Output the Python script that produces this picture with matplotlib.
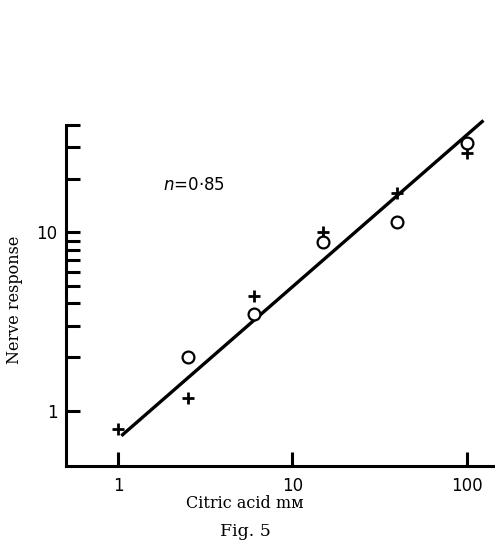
import numpy as np
import matplotlib
matplotlib.use("Agg")
import matplotlib.pyplot as plt
from matplotlib.ticker import FixedLocator, NullFormatter, NullLocator

# citric acid concentration (mM) and nerve response
conc_plus = [1, 2.5, 6, 15, 40, 100]
resp_plus = [0.79, 1.18, 4.4, 10.0, 16.7, 28]
conc_circ = [2.5, 6, 15, 40, 100]
resp_circ = [2.0, 3.5, 8.8, 11.5, 31.8]

# fitted line, slope n = 0.85
n = 0.85
fit_x = [1.04, 125]
fit_k = 0.70

fig = plt.figure(figsize=(4.95, 5.59), dpi=100)
ax = fig.add_axes([66/495, 93/559, 1 - 66/495 + 0.02, 341/559])

ax.set_xscale("log")
ax.set_yscale("log")
ax.set_xlim(0.5, 166)
ax.set_ylim(0.49, 40)

fx = np.array(fit_x)
ax.plot(fx, fit_k * fx**n, color="black", lw=2.4, clip_on=False, solid_capstyle="butt")
ax.plot(conc_plus, resp_plus, "+", color="black", ms=9, mew=2.0, clip_on=False)
ax.plot(conc_circ, resp_circ, "o", mfc="white", mec="black", ms=8.5, mew=1.6, clip_on=False)

for s in ["top", "right"]:
    ax.spines[s].set_visible(False)
for s in ["left", "bottom"]:
    ax.spines[s].set_linewidth(2.2)

ax.xaxis.set_major_locator(FixedLocator([1, 10, 100]))
ax.xaxis.set_minor_locator(NullLocator())
ax.set_xticklabels(["1", "10", "100"])
ax.yaxis.set_major_locator(FixedLocator([1, 10]))
ax.set_yticklabels(["1", "10"])
ax.yaxis.set_minor_locator(FixedLocator([2, 3, 4, 5, 6, 7, 8, 9, 20, 30, 40]))
ax.yaxis.set_minor_formatter(NullFormatter())

ax.tick_params(axis="x", which="major", direction="in", length=10, width=2.2, pad=8, labelsize=12)
ax.tick_params(axis="y", which="both", direction="in", length=10, width=2.2, pad=6, labelsize=12)

fig.text(163/495, 1 - 185/559, r"$n$=0·85", fontsize=12, va="center", ha="left")

fig.text(245/495, 1 - 503/559, "Citric acid mᴍ", family="DejaVu Serif", fontsize=11.5,
         ha="center", va="center")
fig.text(245/495, 1 - 531/559, "Fig. 5", family="DejaVu Serif", fontsize=12.5,
         ha="center", va="center")
fig.text(15/495, 1 - 300/559, "Nerve response", family="DejaVu Serif", fontsize=11.5,
         rotation=90, ha="center", va="center")

fig.savefig("out.png", dpi=100)
